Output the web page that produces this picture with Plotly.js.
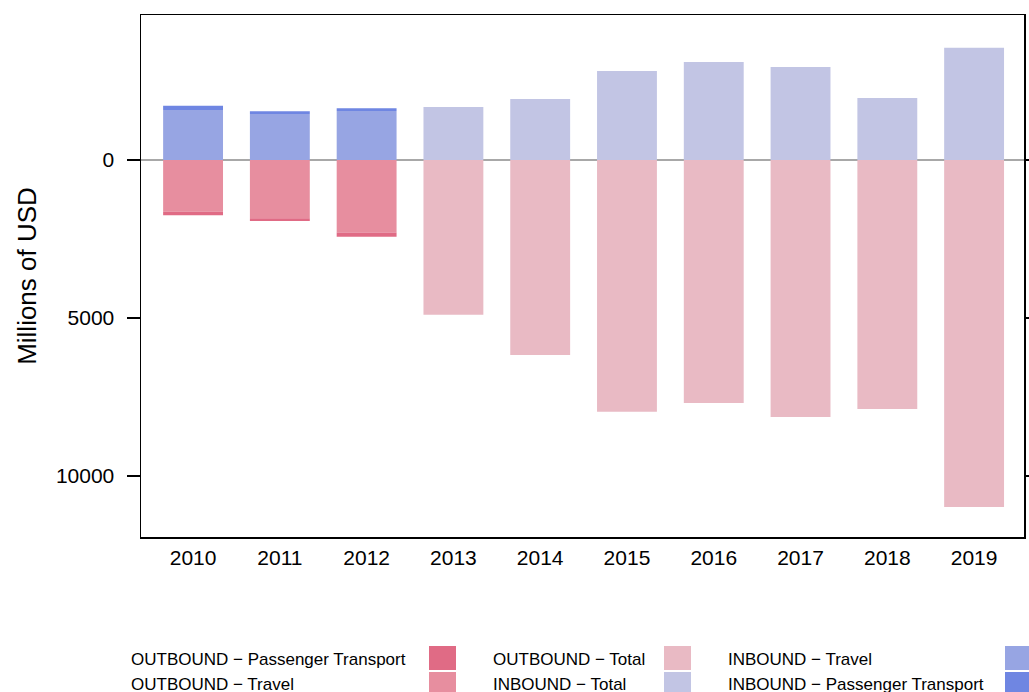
<!DOCTYPE html>
<html>
<head>
<meta charset="utf-8">
<script src="https://cdn.plot.ly/plotly-3.0.1.min.js"></script>
<style>html,body{margin:0;padding:0;background:#fff;}#chart{width:1029px;height:692px;}</style>
</head>
<body>
<div id="chart"></div>
<script>
// ---- data (millions of USD) ----
const years = ["2010","2011","2012","2013","2014","2015","2016","2017","2018","2019"];
const outboundTravel    = [1640, 1845, 2290, null, null, null, null, null, null, null];
const outboundPassenger = [105, 85, 140, null, null, null, null, null, null, null];
const outboundTotal     = [null, null, null, 4900, 6170, 7970, 7690, 8130, 7880, 10980];
const inboundTravel     = [1580, 1455, 1550, null, null, null, null, null, null, null];
const inboundPassenger  = [135, 85, 85, null, null, null, null, null, null, null];
const inboundTotal      = [null, null, null, 1680, 1930, 2815, 3100, 2945, 1960, 3555];

const seriesNames = ["OUTBOUND − Passenger Transport", "OUTBOUND − Travel", "OUTBOUND − Total",
                     "INBOUND − Total", "INBOUND − Travel", "INBOUND − Passenger Transport"];
const colors = {
  "OUTBOUND − Passenger Transport": "#e06b85",
  "OUTBOUND − Travel": "#e78e9f",
  "OUTBOUND − Total": "#e9bac4",
  "INBOUND − Total": "#c2c5e4",
  "INBOUND − Travel": "#97a5e3",
  "INBOUND − Passenger Transport": "#6f86e2"
};

const neg = a => a.map(v => v === null ? null : -v);

function bar(name, vals) {
  return {
    type: "bar", x: years, y: vals, name: name,
    marker: {color: colors[name], line: {width: 0}},
    showlegend: false, hoverinfo: "x+name"
  };
}

const data = [
  bar("OUTBOUND − Travel", outboundTravel),
  bar("OUTBOUND − Passenger Transport", outboundPassenger),
  bar("OUTBOUND − Total", outboundTotal),
  bar("INBOUND − Travel", neg(inboundTravel)),
  bar("INBOUND − Passenger Transport", neg(inboundPassenger)),
  bar("INBOUND − Total", neg(inboundTotal))
];

// ---- custom legend (text then swatch), column-major ----
const font = "Liberation Sans, Arial, Helvetica, sans-serif";
const plotL = 141, plotR = 1024, plotT = 15, plotB = 537;
const W = plotR - plotL, H = plotB - plotT;
const px = x => (x - plotL) / W;
const py = y => (plotB - y) / H;
const colText = [129, 491, 726];
const colSw = [429, 664, 1005];
const rowY = [659, 684];
const rowSw = [[646, 670], [672, 696]];
const annotations = [], shapes = [];
seriesNames.forEach((n, i) => {
  const c = Math.floor(i / 2), r = i % 2;
  annotations.push({
    text: n, xref: "paper", yref: "paper", x: px(colText[c]), y: py(rowY[r]),
    xanchor: "left", yanchor: "middle", showarrow: false,
    font: {family: font, size: 17, color: "#000"}
  });
  shapes.push({
    type: "rect", xref: "paper", yref: "paper",
    x0: px(colSw[c]), x1: px(colSw[c] + 27), y0: py(rowSw[r][0]), y1: py(rowSw[r][1]),
    fillcolor: colors[n], line: {width: 0}
  });
});

const layout = {
  width: 1029, height: 692,
  margin: {l: plotL, r: 1029 - plotR, t: plotT, b: 692 - plotB},
  paper_bgcolor: "#fff", plot_bgcolor: "#fff",
  barmode: "relative", bargap: 0.31,
  font: {family: font, color: "#000"},
  xaxis: {
    type: "category", range: [-0.6, 9.575],
    showline: true, linecolor: "#000", linewidth: 1.5, mirror: true,
    ticks: "", showgrid: false, zeroline: false,
    tickfont: {size: 21}, ticklabelstandoff: 1
  },
  yaxis: {
    range: [11930, -4589],
    tickvals: [0, 5000, 10000], ticktext: ["0", "5000", "10000"],
    ticks: "outside", ticklen: 13, tickwidth: 1.5, tickcolor: "#000",
    showline: true, linecolor: "#000", linewidth: 1.5, mirror: "ticks",
    showgrid: false, zeroline: true, zerolinecolor: "#a8a8a8", zerolinewidth: 1.5,
    tickfont: {size: 21}, ticklabelstandoff: 8,
    title: {text: "Millions of USD", font: {size: 26}, standoff: 12}
  },
  annotations: annotations,
  shapes: shapes
};

Plotly.newPlot("chart", data, layout, {displayModeBar: false, staticPlot: true});
</script>
</body>
</html>
